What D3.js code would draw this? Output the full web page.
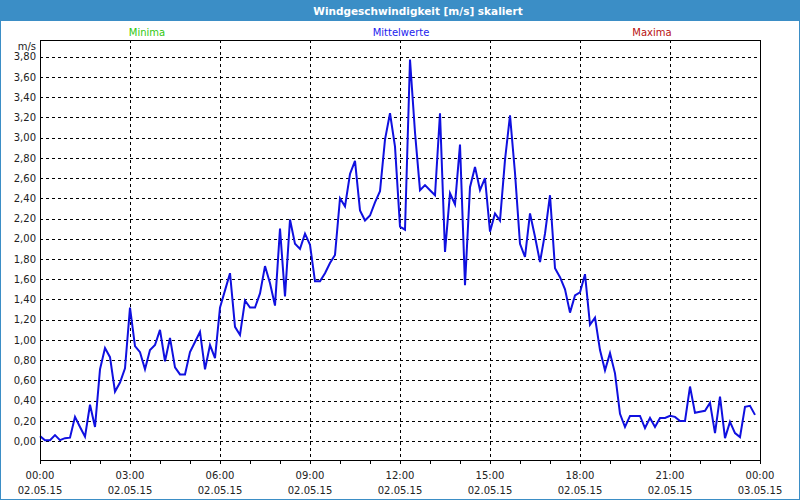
<!DOCTYPE html>
<html>
<head>
<meta charset="utf-8">
<script src="https://cdn.jsdelivr.net/npm/d3@7"></script>
<style>
  html, body { margin: 0; padding: 0; background: #ffffff; }
  svg { display: block; }
  text { font-family: "DejaVu Sans", Verdana, sans-serif; }
</style>
</head>
<body>
<svg id="chart" width="800" height="500"></svg>
<script>
// ---- data ----
const title = "Windgeschwindigkeit [m/s] skaliert";
const legendLabels = ["Minima", "Mittelwerte", "Maxima"];
const unitLabel = "m/s";
const startTime = "2015-05-02T00:00:00";
const endTime = "2015-05-03T00:00:00";
const stepMinutes = 10;
const yTickValues = [0, 0.2, 0.4, 0.6, 0.8, 1.0, 1.2, 1.4, 1.6, 1.8, 2.0, 2.2, 2.4, 2.6, 2.8, 3.0, 3.2, 3.4, 3.6, 3.8];
const xLabelHours = [0, 3, 6, 9, 12, 15, 18, 21, 24];
const meanValues = [
  0.05, 0.01, 0.01, 0.06, 0.01, 0.03, 0.035, 0.24, 0.14, 0.045, 0.36, 0.14,
  0.71, 0.92, 0.83, 0.49, 0.58, 0.72, 1.32, 0.94, 0.88, 0.71, 0.90, 0.95,
  1.10, 0.79, 1.02, 0.73, 0.66, 0.66, 0.88, 0.98, 1.08, 0.71, 0.95, 0.82,
  1.32, 1.49, 1.66, 1.13, 1.05, 1.39, 1.32, 1.32, 1.46, 1.73, 1.56, 1.34,
  2.10, 1.43, 2.19, 1.95, 1.90, 2.05, 1.94, 1.58, 1.58, 1.66, 1.76, 1.84,
  2.40, 2.32, 2.64, 2.77, 2.28, 2.18, 2.23, 2.36, 2.47, 2.98, 3.24, 2.91,
  2.12, 2.09, 3.77, 3.05, 2.48, 2.53, 2.48, 2.43, 3.24, 1.87, 2.45, 2.34,
  2.93, 1.54, 2.51, 2.71, 2.48, 2.60, 2.07, 2.25, 2.18, 2.78, 3.22, 2.65,
  1.95, 1.82, 2.25, 2.02, 1.77, 2.05, 2.43, 1.71, 1.62, 1.50, 1.27, 1.44,
  1.47, 1.65, 1.15, 1.22, 0.90, 0.70, 0.87, 0.67, 0.27, 0.14, 0.25, 0.25,
  0.25, 0.13, 0.23, 0.14, 0.23, 0.23, 0.25, 0.24, 0.20, 0.20, 0.54, 0.28,
  0.29, 0.30, 0.38, 0.08, 0.44, 0.03, 0.19, 0.08, 0.04, 0.34, 0.35, 0.26
];

// ---- layout ----
const W = 800, H = 500;
const plot = { left: 40, right: 760, top: 40, bottom: 460 };
const frameColor = "#3b8ec6";

const svg = d3.select("#chart");

const t0 = new Date(startTime), t1 = new Date(endTime);
const x = d3.scaleTime().domain([t0, t1]).range([plot.left, plot.right]);
const y = d3.scaleLinear().domain([-0.186, 3.964]).range([plot.bottom, plot.top]);

const series = meanValues.map((v, i) => ({ t: d3.timeMinute.offset(t0, i * stepMinutes), v }));

const de = d3.formatLocale({ decimal: ",", thousands: ".", grouping: [3], currency: ["", " €"] });
const fmt = de.format(".2f");

// background
svg.append("rect").attr("x", 0).attr("y", 0).attr("width", W).attr("height", H).attr("fill", "#ffffff");

// title bar
svg.append("rect").attr("x", 0).attr("y", 0).attr("width", W).attr("height", 21).attr("fill", frameColor);
svg.append("text").attr("x", 418).attr("y", 14.5).attr("text-anchor", "middle")
  .attr("fill", "#ffffff").attr("font-weight", "bold").attr("font-size", 10.5)
  .attr("font-family", "'DejaVu Sans Condensed', 'DejaVu Sans', sans-serif")
  .text(title);

// outer frame
svg.append("rect").attr("x", 0.5).attr("y", 0.5).attr("width", W - 1).attr("height", H - 1)
  .attr("fill", "none").attr("stroke", frameColor).attr("stroke-width", 1);

// legend
const legendX = [147, 401, 652];
const legendColors = ["#30c810", "#2222ee", "#b81010"];
svg.append("g").selectAll("text").data(legendLabels).join("text")
  .attr("x", (d, i) => legendX[i]).attr("y", 36).attr("text-anchor", "middle")
  .attr("font-size", 10).attr("fill", (d, i) => legendColors[i]).text(d => d);

// horizontal grid
svg.append("g").selectAll("line").data(yTickValues).join("line")
  .attr("x1", plot.left).attr("x2", plot.right)
  .attr("y1", d => Math.round(y(d)) + 0.5).attr("y2", d => Math.round(y(d)) + 0.5)
  .attr("stroke", "#000").attr("stroke-width", 1).attr("stroke-dasharray", "3,3");

// vertical grid (every 3 hours, inner)
const gridHours = xLabelHours.slice(1, -1).map(h => d3.timeHour.offset(t0, h));
svg.append("g").selectAll("line").data(gridHours).join("line")
  .attr("x1", d => Math.round(x(d)) + 0.5).attr("x2", d => Math.round(x(d)) + 0.5)
  .attr("y1", plot.top).attr("y2", plot.bottom)
  .attr("stroke", "#000").attr("stroke-width", 1).attr("stroke-dasharray", "3,3");

// y axis labels
const yAxis = d3.axisLeft(y).tickValues(yTickValues).tickSize(0).tickPadding(4).tickFormat(fmt);
const gy = svg.append("g").attr("transform", `translate(${plot.left},0)`).call(yAxis);
gy.select(".domain").remove();
gy.selectAll("text").attr("font-size", 10).attr("fill", "#222").attr("font-family", "'DejaVu Sans', sans-serif");

svg.append("text").attr("x", 36).attr("y", 50).attr("text-anchor", "end")
  .attr("font-size", 10).attr("fill", "#222").text(unitLabel);

// x axis hourly ticks
const xAxisTicks = d3.axisBottom(x).ticks(d3.timeHour.every(1)).tickSize(4).tickFormat("");
const gx = svg.append("g").attr("transform", `translate(0,${plot.bottom})`).call(xAxisTicks);
gx.select(".domain").remove();
gx.selectAll("line").attr("stroke", "#000");

// x labels (two lines)
const labelTimes = xLabelHours.map(h => d3.timeHour.offset(t0, h));
const fTime = d3.timeFormat("%H:%M"), fDate = d3.timeFormat("%d.%m.%y");
const xl = svg.append("g").selectAll("text").data(labelTimes).join("text")
  .attr("text-anchor", "middle").attr("font-size", 10).attr("fill", "#222");
xl.append("tspan").attr("x", d => x(d)).attr("y", 479).text(d => fTime(d));
xl.append("tspan").attr("x", d => x(d)).attr("y", 494).text(d => fDate(d));

// line
const line = d3.line().x(d => x(d.t)).y(d => y(d.v));
svg.append("path").datum(series).attr("d", line)
  .attr("fill", "none").attr("stroke", "#1010e0").attr("stroke-width", 2).attr("stroke-linejoin", "miter");

// plot frame
svg.append("rect").attr("x", plot.left + 0.5).attr("y", plot.top + 0.5)
  .attr("width", plot.right - plot.left).attr("height", plot.bottom - plot.top)
  .attr("fill", "none").attr("stroke", "#000").attr("stroke-width", 1);
</script>
</body>
</html>
